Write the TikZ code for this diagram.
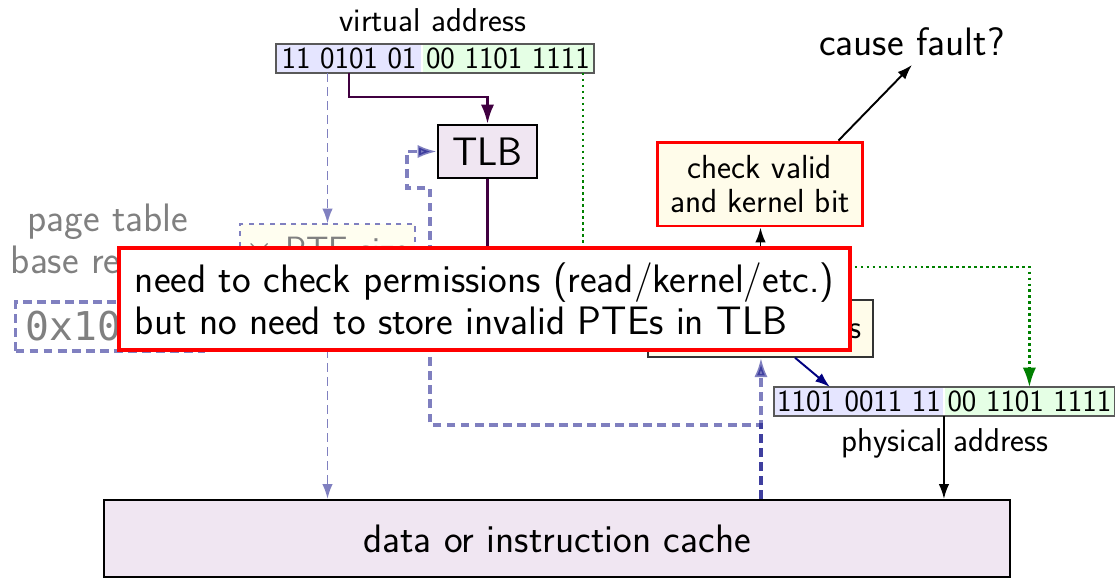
\documentclass[tikz,border=0pt]{standalone}
\usepackage{fontspec}
\setmonofont{DejaVu Sans Mono}
\renewcommand{\familydefault}{\sfdefault}
\usepackage{tikz}
\usetikzlibrary{arrows,arrows.meta}
\usetikzlibrary{positioning}

\definecolor{tlbfill}{RGB}{240,230,242}
\definecolor{tlbline}{RGB}{64,0,64}
\definecolor{walkline}{RGB}{0,0,128}
\definecolor{walkfade}{RGB}{128,128,192}
\definecolor{checkfill}{RGB}{255,252,234}

\newcommand{\bigtext}{\fontsize{22.6}{24}\selectfont}
\newcommand{\sizetext}{\fontsize{20}{24}\selectfont}
\newcommand{\midtext}{\fontsize{19}{19.5}\selectfont}
\newcommand{\bittext}{\fontsize{17.5}{18}\selectfont}
\newcommand{\labeltext}{\fontsize{18.8}{20}\selectfont}

\tikzset{
    bigtip/.tip={Latex[length=11pt,width=7.5pt]},
    smalltip/.tip={Latex[length=8.5pt,width=6pt]},
    bits/.style={inner sep=0pt, minimum height=0.54cm, font=\bittext},
    pagebits/.style={bits, fill=blue!10},
    offbits/.style={bits, fill=green!10},
    bitframe/.style={draw=black!65, line width=0.8pt},
    unit/.style={draw=black, line width=1.2pt, fill=tlbfill, font=\bigtext},
    checkbox/.style={draw=red, line width=1.7pt, fill=checkfill, font=\midtext, align=center},
    entrybox/.style={draw=black!80, line width=0.8pt, fill=checkfill, font=\midtext},
    walkbox/.style={draw=walkfade, dash pattern=on 5pt off 3pt, line width=1.8pt, fill=white, text=black!50},
    sizebox/.style={draw=walkfade, dashed, line width=0.6pt, fill=yellow!6, text=black!50},
    tlbpath/.style={draw=tlbline, line width=1.6pt, -bigtip},
    walkpath/.style={draw=walkline, draw opacity=0.5, fill opacity=0.5, dash pattern=on 5pt off 3pt, line width=1.8pt, -bigtip},
    addrpath/.style={draw=walkfade, dash pattern=on 5pt off 3pt, line width=1.1pt, -smalltip},
    offpath/.style={draw=green!50!black, dotted, line width=1.4pt, -bigtip},
    notebox/.style={draw=red, line width=2.3pt, fill=white, font=\bigtext, align=left},
}

\begin{document}
\begin{tikzpicture}[x=0.02cm, y=-0.02cm, >=smalltip, line width=1.1pt]
    \useasboundingbox (0,0) rectangle (1115,578);

    % virtual address
    \node[font=\labeltext] (vlabel) at (433,20) {virtual address};
    \node[pagebits, minimum width=2.88cm] (vpn) at (349,58.5) {11 0101 01};
    \node[offbits, minimum width=3.4cm, right=0pt of vpn] (voff) {00 1101 1111};
    \draw[bitframe] (vpn.north west) rectangle (voff.south east);

    \node[unit, minimum width=1.98cm, minimum height=1.06cm] (tlb) at (487.5,151.5) {TLB};
    \node[unit, minimum width=18.12cm, minimum height=1.54cm] (cache) at (557,538.5) {data or instruction cache};

    % page table walk
    \node[font=\bigtext, text=black!50, align=center] (ptlabel) at (108,243) {page table\\base register};
    \node[walkbox, font=\ttfamily\bigtext, anchor=west, inner xsep=0.2cm, minimum height=0.98cm] (ptbr) at (14,326.5) {0x10000};
    \node[sizebox, font=\sizetext, minimum width=3.5cm, minimum height=1.08cm] (ptesize) at (327.5,251) {$\times$ PTE size};
    \draw[addrpath] (ptesize.north |- vpn.south) -- (ptesize.north);
    \draw[addrpath] (ptesize.south) -- (ptesize.south |- cache.north);

    \node[entrybox, minimum width=4.5cm, minimum height=1.14cm, text width=4.06cm, align=right] (ptebits) at (760.5,328.5) {PPN, PTE bits};
    \draw[tlbpath] (vpn.south) -- ++(0,24) -| (tlb.north);
    \draw[tlbpath] (tlb.south) |- (ptebits.west);

    \coordinate (memtap) at ([xshift=4.08cm]cache.north);
    \draw[walkpath] (memtap) -- (memtap |- ptebits.south);
    \draw[walkpath] (memtap) |- (430,425) -- (430,188) -- (407,188) |- (tlb.west);

    % permission check
    \node[checkbox, minimum width=4.12cm, minimum height=1.68cm] (check) at (760,184) {check valid\\and kernel bit};
    \node[font=\bigtext] (fault) at (912,42) {cause fault?};
    \draw[->] (ptebits.north) -- (ptebits.north |- check.south);
    \draw[->] ([xshift=-0.52cm]check.north east) -- ([yshift=-0.04cm]fault.south);

    % physical address
    \node[pagebits, minimum width=3.36cm] (ppn) at (859,401.5) {1101 0011 11};
    \node[offbits, minimum width=3.38cm, right=0pt of ppn] (poff) {00 1101 1111};
    \draw[bitframe] (ppn.north west) rectangle (poff.south east);
    \node[font=\labeltext] (plabel) at (945,443) {physical address};
    \draw[->] (ppn.south east) -- (ppn.south east |- cache.north);
    \draw[->, draw=walkline] ([xshift=0.69cm]ptebits.south) -- ([xshift=-0.58cm]ppn.north);

    \coordinate (voffbit) at ([xshift=-0.22cm]voff.south east);
    \draw[offpath] (voffbit) -- ++(0,194) -| (poff.north);

    % the note on top
    \node[notebox, anchor=west, inner xsep=9pt, minimum height=2.04cm] (note) at (117,299)
        {need to check permissions (read/kernel/etc.)\\but no need to store invalid PTEs in TLB};
\end{tikzpicture}
\end{document}
